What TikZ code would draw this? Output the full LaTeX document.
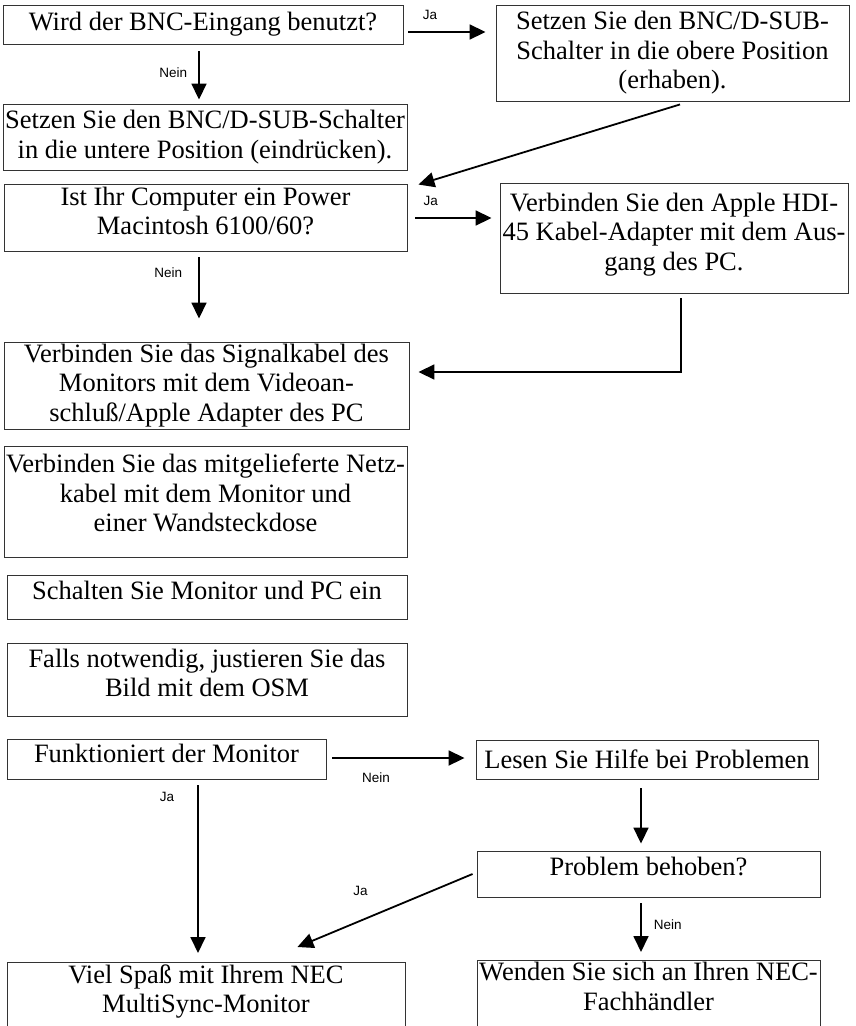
\documentclass[tikz,border=0pt]{standalone}
\usepackage{fontspec}
\setmainfont{Liberation Serif}
\newfontfamily\labelfont{Liberation Sans}
\usetikzlibrary{arrows.meta,calc}

\begin{document}
\begin{tikzpicture}[x=1pt, y=-1pt,
  stepbox/.style={draw=black!80, line width=0.9pt, align=center, inner xsep=1.5pt, inner ysep=2pt,
    font=\fontsize{26.5}{29.5}\selectfont},
  flowarrow/.style={line width=1.8pt, -{Triangle[length=16pt,width=15pt]}},
  answer/.style={font=\labelfont\fontsize{13.5}{15}\selectfont, inner sep=0pt}]
\useasboundingbox (0,0) rectangle (856,1026);

\node[stepbox, minimum width=400pt, minimum height=39pt] (bnc) at (203,24.5) {Wird der BNC-Eingang benutzt?};
\node[stepbox, minimum width=353pt, minimum height=96pt] (oben) at (672.5,53) {Setzen Sie den BNC/D-SUB-\\Schalter in die obere Position\\(erhaben).};
\node[stepbox, minimum width=404pt, minimum height=66pt] (unten) at (205,137) {Setzen Sie den BNC/D-SUB-Schalter\\in die untere Position (eindrücken).};
\node[stepbox, minimum width=403pt, minimum height=67pt] (mac) at (205.5,217.5) {Ist Ihr Computer ein Power\\Macintosh 6100/60?\\[-16.5pt]~};
\node[stepbox, minimum width=348pt, minimum height=110pt] (hdi) at (674,238) {Verbinden Sie den Apple HDI-\\45 Kabel-Adapter mit dem Aus-\\gang des PC.\\[-17pt]~};
\node[stepbox, minimum width=405pt, minimum height=85pt] (signal) at (206.5,385.5) {Verbinden Sie das Signalkabel des\\Monitors mit dem Videoan-\\schluß/Apple Adapter des PC};
\node[stepbox, minimum width=403pt, minimum height=111pt] (netz) at (205.5,501.5) {Verbinden Sie das mitgelieferte Netz-\\kabel mit dem Monitor und\\einer Wandsteckdose\\[-12pt]~};
\node[stepbox, minimum width=400pt, minimum height=44pt] (ein) at (207,597) {Schalten Sie Monitor und PC ein\\[-17pt]~};
\node[stepbox, minimum width=400pt, minimum height=73pt] (osm) at (207,679.5) {Falls notwendig, justieren Sie das\\Bild mit dem OSM\\[-16.5pt]~};
\node[stepbox, minimum width=319pt, minimum height=40pt] (geht) at (166.5,759) {Funktioniert der Monitor\\[-19pt]~};
\node[stepbox, minimum width=342pt, minimum height=39pt] (hilfe) at (647,759.5) {Lesen Sie Hilfe bei Problemen};
\node[stepbox, minimum width=343pt, minimum height=46pt] (behoben) at (648.5,874) {Problem behoben?\\[-13.5pt]~};
\node[stepbox, minimum width=343pt, anchor=north] (haendler) at (648.5,960) {Wenden Sie sich an Ihren NEC-\\Fachhändler\\~};
\node[stepbox, minimum width=398pt, anchor=north] (spass) at (206,962) {Viel Spaß mit Ihrem NEC\\MultiSync-Monitor\\~};

\draw[flowarrow] ($(bnc.east)+(5,7.5)$) -- node[answer, above=11pt, pos=0.28] (ja1) {Ja} ($(oben.west |- bnc.east)+(-10,7.5)$);
\draw[flowarrow] ($(bnc.south)+(-4,7)$) -- node[answer, left=11pt, pos=0.45] (nein1) {Nein} ($(unten.north)+(-6,-4)$);
\draw[flowarrow] ($(oben.south)+(7.5,3)$) -- ($(mac.north east)+(11,1)$);
\draw[flowarrow] ($(mac.east)+(8,0.5)$) -- node[answer, above=11pt, pos=0.2] (ja2) {Ja} ($(hdi.west |- mac.east)+(-8,0.5)$);
\draw[flowarrow] ($(mac.south)+(-6.5,6)$) -- node[answer, left=16pt, pos=0.25] (nein2) {Nein} ($(signal.north)+(-7.5,-23)$);
\draw[flowarrow] ($(hdi.south)+(7,5)$) |- ($(signal.east)+(9,-13.5)$);
\draw[flowarrow] ($(geht.east)+(6,-1)$) -- node[answer, below=14pt, pos=0.33] (nein3) {Nein} ($(hilfe.west)+(-11,-1.5)$);
\draw[flowarrow] ($(geht.south)+(31.5,6)$) -- node[answer, left=23pt, pos=0.07] (ja3) {Ja} ($(spass.north)+(-8,-9)$);
\draw[flowarrow] ($(hilfe.south)+(-6,9)$) -- ($(behoben.north)+(-7.5,-7)$);
\draw[flowarrow] ($(behoben.west)+(-4,0)$) -- node[answer, above=24pt, pos=0.64] (ja4) {Ja} ($(spass.north east)+(-108,-15)$);
\draw[flowarrow] ($(behoben.south)+(-7.5,6)$) -- node[answer, right=12pt, pos=0.44] (nein4) {Nein} ($(haendler.north)+(-7.5,-8)$);
\end{tikzpicture}
\end{document}
